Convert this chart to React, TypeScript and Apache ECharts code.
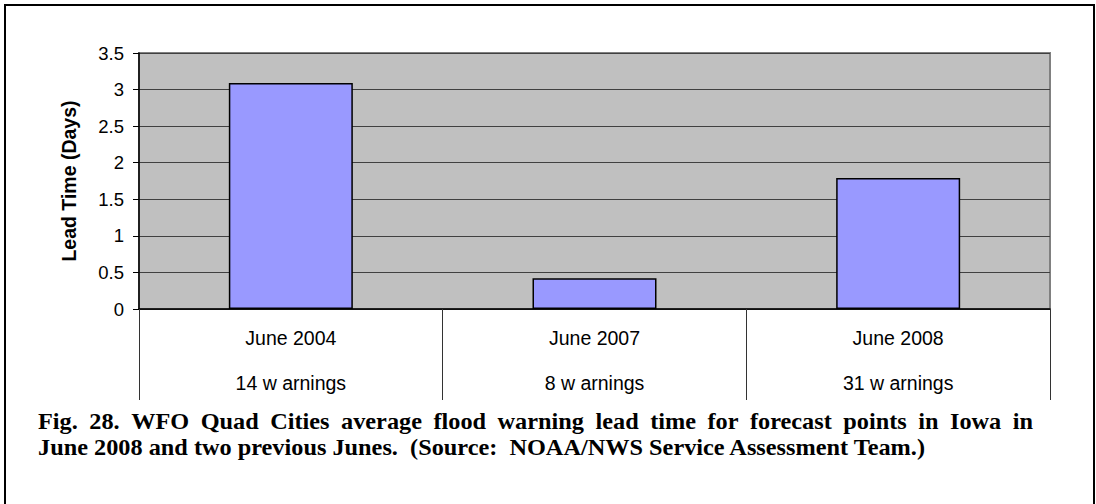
import React, { useEffect, useRef } from "react";
import * as echarts from "echarts";

const categories = ["June 2004", "June 2007", "June 2008"];
const warningCounts = ["14 w arnings", "8 w arnings", "31 w arnings"];
const leadTimeDays = [3.09, 0.42, 1.79];
const yAxisTitle = "Lead Time (Days)";
const captionLines = [
  "Fig. 28.  WFO Quad Cities average flood warning lead time for forecast points in Iowa in",
  "June 2008 and two previous Junes.  (Source:  NOAA/NWS Service Assessment Team.)",
];

export default function App() {
  const ref = useRef<HTMLDivElement>(null);
  useEffect(() => {
    if (!ref.current) return;
    const chart = echarts.init(ref.current, undefined, { renderer: "svg" });
    const labels = categories.map((c, i) => c + "\n" + warningCounts[i]);

    const capFontSize = 22.5;
    const capScale = 1.08;
    const capLeft = 38;
    const capJustifyWidth = 995;
    const captionStyle = {
      fontFamily: "Liberation Serif",
      fontWeight: "bold",
      fontSize: capFontSize,
      fill: "#000000",
      verticalAlign: "middle",
    };

    // Justified first caption line (word positions from measured text widths)
    const canvas = document.createElement("canvas");
    const ctx = canvas.getContext("2d");
    const words = captionLines[0].split(/\s+/);
    let wordWidths = words.map((w) => w.length * capFontSize * 0.5 * capScale);
    let spaceW = capFontSize * 0.25 * capScale;
    if (ctx) {
      ctx.font = `bold ${capFontSize}px "Liberation Serif"`;
      wordWidths = words.map((w) => ctx.measureText(w).width * capScale);
      spaceW = ctx.measureText(" ").width * capScale;
    }
    const totalW = wordWidths.reduce((a, b) => a + b, 0);
    const gap = Math.max(spaceW, (capJustifyWidth - totalW) / (words.length - 1));
    const line1Elements: any[] = [];
    let cx = capLeft;
    words.forEach((w, i) => {
      line1Elements.push({
        type: "text",
        x: cx,
        y: 421,
        scaleX: capScale,
        style: { ...captionStyle, text: w },
      });
      cx += wordWidths[i] + gap;
    });

    chart.setOption({
      animation: false,
      backgroundColor: "#ffffff",
      grid: {
        left: 139,
        top: 53,
        right: 46,
        bottom: 195,
        show: true,
        backgroundColor: "#C0C0C0",
        borderColor: "#808080",
        borderWidth: 2,
        containLabel: false,
      },
      xAxis: {
        type: "category",
        data: labels,
        boundaryGap: true,
        axisLine: { show: true, lineStyle: { color: "#000000", width: 1.5 } },
        axisTick: {
          show: true,
          alignWithLabel: false,
          length: 91,
          lineStyle: { color: "#333333", width: 1 },
        },
        axisLabel: {
          fontFamily: "Liberation Sans",
          fontSize: 19.5,
          color: "#000000",
          lineHeight: 45,
          margin: 6,
        },
        splitLine: { show: false },
      },
      yAxis: {
        type: "value",
        min: 0,
        max: 3.5,
        interval: 0.5,
        name: yAxisTitle,
        nameLocation: "middle",
        nameGap: 60,
        nameRotate: 90,
        nameTextStyle: {
          fontFamily: "Liberation Sans",
          fontSize: 19.5,
          fontWeight: "bold",
          color: "#000000",
        },
        axisLine: { show: true, lineStyle: { color: "#000000", width: 1.5 } },
        axisTick: { show: true, inside: false, length: 6, lineStyle: { color: "#000000" } },
        axisLabel: {
          fontFamily: "Liberation Sans",
          fontSize: 18.5,
          color: "#000000",
          margin: 15,
        },
        splitLine: { show: true, lineStyle: { color: "#404040", width: 1 } },
      },
      series: [
        {
          type: "bar",
          data: leadTimeDays,
          barWidth: 124,
          itemStyle: { color: "#9999FF", borderColor: "#000000", borderWidth: 1.5 },
        },
      ],
      graphic: [
        {
          type: "rect",
          shape: { x: 5, y: 5, width: 1089, height: 520 },
          style: { fill: "none", stroke: "#000000", lineWidth: 2 },
          silent: true,
        },
        ...line1Elements,
        {
          type: "text",
          x: capLeft,
          y: 447,
          scaleX: capScale,
          style: { ...captionStyle, text: captionLines[1] },
        },
      ],
    });
    return () => chart.dispose();
  }, []);
  return (
    <div
      ref={ref}
      style={{ position: "fixed", left: 0, top: 0, width: 1096, height: 504 }}
    />
  );
}
